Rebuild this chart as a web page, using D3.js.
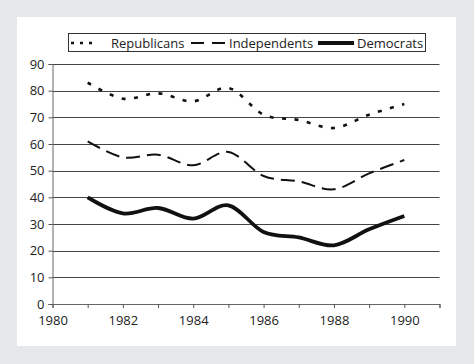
<!DOCTYPE html>
<html><head><meta charset="utf-8">
<script src="https://cdn.jsdelivr.net/npm/d3@7"></script>
<style>
html,body{margin:0;padding:0;background:#e6e7e8;}
svg{display:block;}
</style></head>
<body>
<svg id="c" width="474" height="364"></svg>
<script>
const years = [1981,1982,1983,1984,1985,1986,1987,1988,1989,1990];
const republicans = [83,77,79,76,81,71,69,66,71,75];
const independents = [61,55,56,52,57,48,46,43,49,54];
const democrats = [40,34,36,32,37,27,25,22,28,33];
const yTicks = [0,10,20,30,40,50,60,70,80,90];
const xTickLabels = [1980,1982,1984,1986,1988,1990];
const seriesNames = ["Republicans","Independents","Democrats"];

const svg = d3.select("#c");
const font = "'Liberation Sans Narrow','Open Sans',Arial,sans-serif";
svg.append("rect").attr("x",0).attr("y",0).attr("width",474).attr("height",364).attr("fill","#e6e7e8");
svg.append("rect").attr("x",17).attr("y",17).attr("width",439).attr("height",329).attr("fill","#fff");

const x = d3.scaleLinear().domain([1980,1991]).range([52.5,439.5]);
const y = d3.scaleLinear().domain([0,90]).range([304,64]);

// gridlines
svg.append("g").selectAll("line").data(yTicks.filter(d=>d>0)).join("line")
  .attr("x1",x(1980)).attr("x2",x(1991))
  .attr("y1",d=>Math.round(y(d))+0.5).attr("y2",d=>Math.round(y(d))+0.5)
  .attr("stroke","#444").attr("stroke-width",1);

const yAxis = svg.append("g").attr("transform",`translate(${x(1980)},0)`)
  .call(d3.axisLeft(y).tickValues(yTicks).tickSize(4).tickPadding(4));
const xAxis = svg.append("g").attr("transform",`translate(0,${Math.round(y(0))})`)
  .call(d3.axisBottom(x).tickValues(d3.range(1980,1992)).tickSize(4).tickPadding(8)
    .tickFormat(d=> xTickLabels.includes(d) ? d : ""));
[yAxis,xAxis].forEach(a=>{
  a.select(".domain").attr("stroke","#666");
  a.selectAll(".tick line").attr("stroke","#555");
  a.selectAll("text").attr("font-family",font).attr("font-size",13).attr("fill","#222");
});

const curve = d3.curveCatmullRom.alpha(0);
const line = d3.line().x((d,i)=>x(years[i])).y(d=>y(d)).curve(curve);
const styles = [
  {data:republicans, width:2.6, dash:"4,8.5"},
  {data:independents, width:2, dash:"14,7"},
  {data:democrats, width:3.8, dash:null}
];
styles.forEach(s=>{
  svg.append("path").attr("d",line(s.data)).attr("fill","none")
    .attr("stroke","#111").attr("stroke-width",s.width)
    .attr("stroke-dasharray",s.dash);
});

// legend
svg.append("rect").attr("x",68.5).attr("y",33.5).attr("width",357).attr("height",18)
  .attr("fill","#fff").attr("stroke","#333").attr("stroke-width",1);
const legendItems = [
  {name:seriesNames[0], x1:71, x2:96, tx:111, st:styles[0], dash:"3,6"},
  {name:seriesNames[1], x1:191, x2:225, tx:229, st:styles[1], dash:"13,8"},
  {name:seriesNames[2], x1:318, x2:354, tx:357, st:styles[2], dash:null}
];
legendItems.forEach(l=>{
  svg.append("line").attr("x1",l.x1).attr("x2",l.x2).attr("y1",43).attr("y2",43)
    .attr("stroke","#111").attr("stroke-width",l.st.width).attr("stroke-dasharray",l.dash);
  svg.append("text").attr("x",l.tx).attr("y",47.5).text(l.name)
    .attr("font-family",font).attr("font-size",13).attr("fill","#222");
});
</script>
</body></html>
